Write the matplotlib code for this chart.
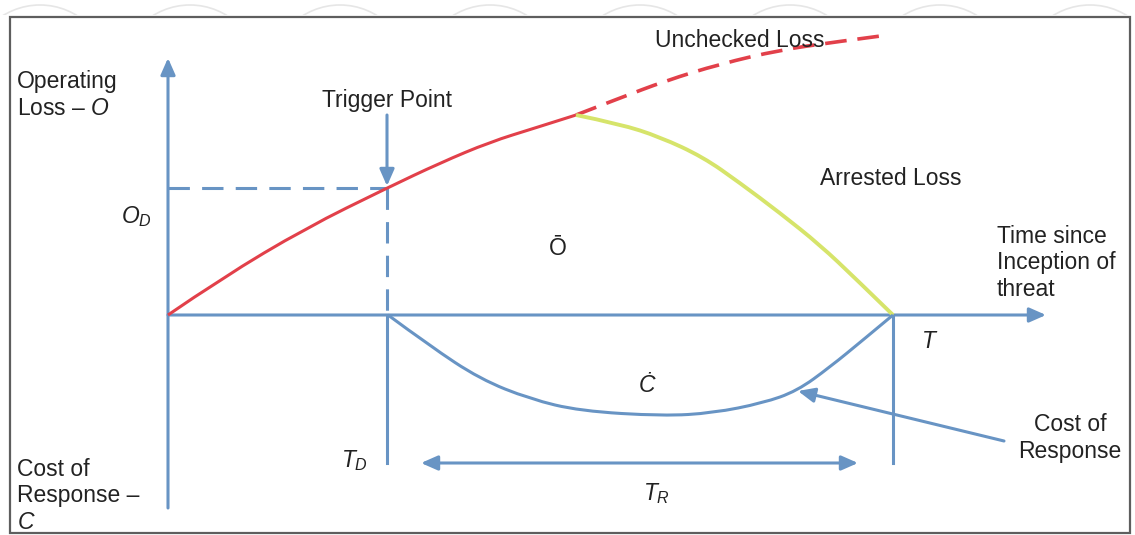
import matplotlib
matplotlib.use("Agg")
import matplotlib.pyplot as plt
from matplotlib.path import Path
from matplotlib.patches import PathPatch, FancyArrowPatch, Rectangle, Circle

plt.rcParams['font.family'] = ['Liberation Sans', 'DejaVu Sans']
plt.rcParams['mathtext.fontset'] = 'custom'
plt.rcParams['mathtext.rm'] = 'Liberation Sans'
plt.rcParams['mathtext.it'] = 'Liberation Sans:italic'

# ---- curve data (diagram units) ----
loss_x = [168, 222, 306, 387, 440, 490, 535, 576]
loss_y = [315, 278, 228, 188, 163, 142, 128, 115]

unchecked_x = [576, 620, 665, 720, 780, 835, 888]
unchecked_y = [115, 98, 81, 64, 50, 42, 35]

arrested_x = [576, 620, 660, 703, 740, 780, 820, 856, 893]
arrested_y = [115, 124, 137, 157, 183, 213, 245, 279, 315]

cost_x = [388, 430, 480, 530, 580, 663, 713, 763, 797, 830, 863, 893]
cost_y = [315, 346, 379, 399, 411, 416, 413, 403, 391, 367, 340, 315]

# key positions
origin = (168, 315)
t_trigger = 387
t_end = 893
o_d = 188

BLUE = '#6894c4'
RED = '#e2404a'
YELLOW = '#d6e46a'
TXT = '#222222'
FS = 16.5

fig = plt.figure(figsize=(11.35, 5.35), dpi=100)
ax = fig.add_axes([0, 0, 1, 1])
ax.set_xlim(0, 1135)
ax.set_ylim(535, 0)
ax.axis('off')


def smooth_path(xs, ys):
    pts = list(zip(xs, ys))
    verts = [pts[0]]
    codes = [Path.MOVETO]
    for i in range(1, len(pts) - 1):
        mid = ((pts[i][0] + pts[i + 1][0]) / 2, (pts[i][1] + pts[i + 1][1]) / 2)
        if i == len(pts) - 2:
            mid = pts[-1]
        verts += [pts[i], mid]
        codes += [Path.CURVE3, Path.CURVE3]
    return Path(verts, codes)


def curve(xs, ys, color, lw, ls='-', z=3):
    p = PathPatch(smooth_path(xs, ys), facecolor='none', edgecolor=color,
                  lw=lw, ls=ls, capstyle='butt', zorder=z)
    ax.add_patch(p)
    return p


def arrow(p0, p1, style='-|>', lw=2.2, color=BLUE, z=2):
    a = FancyArrowPatch(p0, p1, arrowstyle=style + ',head_length=0.5,head_width=0.22',
                        mutation_scale=20, lw=lw, color=color, shrinkA=0, shrinkB=0,
                        zorder=z)
    ax.add_patch(a)


# faint watermark arcs above frame
for cx in range(40, 1135, 150):
    c = Circle((cx, 75), 70, facecolor='none', edgecolor='#e6e6e6', lw=1.2, zorder=0)
    ax.add_patch(c)
    c.set_clip_path(Rectangle((0, 0), 1135, 15, transform=ax.transData))

# frame
ax.add_patch(Rectangle((10, 17), 1120, 516, facecolor='none', edgecolor='#5e5e5e',
                       lw=1.6, zorder=1))

# axes
arrow((origin[0], 508), (origin[0], 58))
arrow((origin[0], origin[1]), (1046, origin[1]))

# trigger line
arrow((t_trigger, 115), (t_trigger, o_d - 2))
ax.plot([t_trigger, t_trigger], [o_d, origin[1]], color=BLUE, lw=2.2,
        dashes=(7, 4), zorder=2)
ax.plot([t_trigger, t_trigger], [origin[1], 463], color=BLUE, lw=2.2, zorder=2)
ax.plot([origin[0], t_trigger], [o_d, o_d], color=BLUE, lw=2.2,
        dashes=(7, 4), zorder=2)

# end line T
ax.plot([t_end, t_end], [origin[1], 463], color=BLUE, lw=2.2, zorder=2)

# T_R double arrow
arrow((421, 463), (858, 463), style='<|-|>')

# pointer to cost curve
arrow((1004, 441), (798, 391))

# curves
curve(loss_x, loss_y, RED, 2.2)
curve(unchecked_x, unchecked_y, RED, 2.6, ls=(0, (6, 3)))
curve(arrested_x, arrested_y, YELLOW, 2.8)
curve(cost_x, cost_y, BLUE, 2.2)

# texts (va='baseline' -> baseline of the last line for multi-line text)
kw = dict(color=TXT, fontsize=FS, va='baseline')
ax.text(17, 115, 'Operating\nLoss – $\\mathit{O}$', ha='left', **kw)
ax.text(17, 529, 'Cost of\nResponse –\n$\\mathit{C}$', ha='left', **kw)
ax.text(387, 107, 'Trigger Point', ha='center', **kw)
ax.text(655, 47, 'Unchecked Loss', ha='left', **kw)
ax.text(820, 185, 'Arrested Loss', ha='left', **kw)
ax.text(997, 296, 'Time since\nInception of\nthreat', ha='left', **kw)
ax.text(1070, 458, 'Cost of\nResponse', ha='center', **kw)
ax.text(136, 223, '$\\mathit{O}_{\\mathit{D}}$', ha='center', **kw)
ax.text(558, 255, 'Ō', ha='center', **kw)
ax.text(647, 392, 'Ċ', ha='center', style='italic', **kw)
ax.text(929, 348, 'T', ha='center', style='italic', **kw)
ax.text(355, 467, '$\\mathit{T}_{\\mathit{D}}$', ha='center', **kw)
ax.text(657, 500, '$\\mathit{T}_{\\mathit{R}}$', ha='center', **kw)

fig.savefig('out.png', dpi=100, facecolor='white')
